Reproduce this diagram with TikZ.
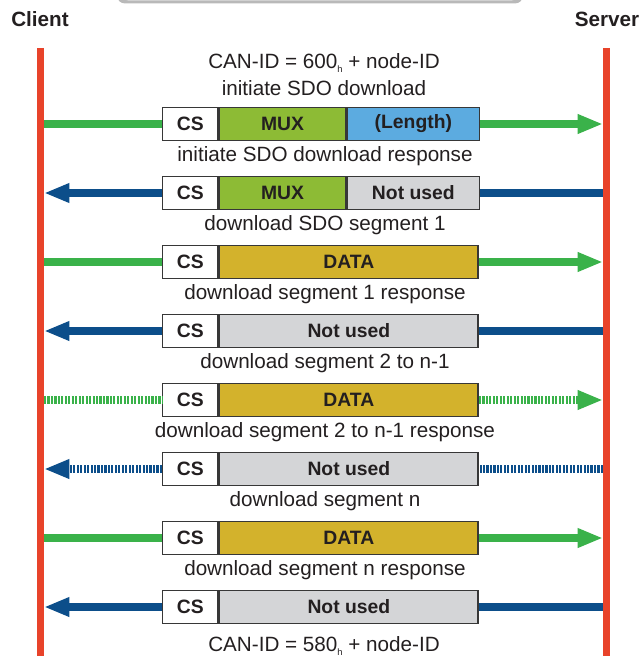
\documentclass[tikz,border=0pt]{standalone}
\usepackage{fontspec}
\setmainfont{Liberation Sans}
\usetikzlibrary{arrows.meta}
\definecolor{lifered}{RGB}{232,67,42}
\definecolor{reqgreen}{RGB}{58,178,74}
\definecolor{resblue}{RGB}{12,78,138}
\definecolor{muxgreen}{RGB}{141,187,53}
\definecolor{lenblue}{RGB}{92,171,224}
\definecolor{unusedgray}{RGB}{212,213,215}
\definecolor{datagold}{RGB}{211,178,44}
\definecolor{boxline}{RGB}{55,55,55}
\definecolor{txt}{RGB}{35,31,32}
\begin{document}
\begin{tikzpicture}[x=0.75pt,y=-0.75pt,
  lbl/.style={font=\fontsize{15.5}{18}\selectfont, text=txt, inner sep=0pt},
  head/.style={font=\bfseries\fontsize{15.5}{18}\selectfont, text=txt, inner sep=0pt},
  cell/.style={draw=boxline, line width=1.1pt, minimum height=25pt, inner sep=0pt, anchor=west, font=\bfseries\fontsize{14.5}{18}\selectfont, text=txt},
  csbox/.style={cell, fill=white, minimum width=41.5pt},
  fullbox/.style={cell, minimum width=194pt},
  muxbox/.style={cell, fill=muxgreen, minimum width=94.5pt},
  thirdbox/.style={cell, minimum width=99.5pt},
  msg/.style={line width=5.5pt},
  tip/.style={-{Triangle[length=19pt,width=13.5pt]}},
  dots/.style={dash pattern=on 1.6pt off 1pt},
  life/.style={draw=lifered, line width=5.25pt},
]
\useasboundingbox (0,0) rectangle (639,659);
\begin{scope}
\clip (0,0) rectangle (639,659);
\fill[gray!55, rounded corners=6pt] (117,-30) rectangle (523,3.5);
\fill[white, rounded corners=6pt] (121,-30) rectangle (519,0.5);
\end{scope}

% headings
\node[head] (client) at (40,19) {Client};
\node[head] (server) at (607,19) {Server};

% lifeline coordinates
\coordinate (ctop) at (40,48);
\coordinate (cbot) at (40,656);
\coordinate (stop) at (606,48);
\coordinate (sbot) at (606,656);

% labels
\node[lbl] (l0a) at (324,63) {CAN-ID = 600\raisebox{-0.45ex}{\fontsize{7}{8}\selectfont h} + node-ID};
\node[lbl] (l0b) at (324,88) {initiate SDO download};
\node[lbl] (l1) at (325,156) {initiate SDO download response};
\node[lbl] (l2) at (325,225) {download SDO segment 1};
\node[lbl] (l3) at (325,294) {download segment 1 response};
\node[lbl] (l4) at (325,363) {download segment 2 to n-1};
\node[lbl] (l5) at (325,432) {download segment 2 to n-1 response};
\node[lbl] (l6) at (325,501) {download segment n};
\node[lbl] (l7) at (325,570) {download segment n response};
\node[lbl] (l8) at (324,646) {CAN-ID = 580\raisebox{-0.45ex}{\fontsize{7}{8}\selectfont h} + node-ID};

% row 1
\node[csbox] (cs1) at (162,124) {CS};
\node[muxbox] (mux1) at (cs1.east) {MUX};
\node[thirdbox, fill=lenblue] (len1) at (mux1.east) {(Length)};
\coordinate (c1) at (44,124); \coordinate (s1) at (603,124);
\draw[msg, draw=reqgreen] (c1) -- (cs1.west);
\draw[msg, draw=reqgreen, tip] (len1.east) -- (s1);

% row 2
\node[csbox] (cs2) at (162,193) {CS};
\node[muxbox] (mux2) at (cs2.east) {MUX};
\node[thirdbox, fill=unusedgray] (nu2) at (mux2.east) {Not used};
\coordinate (c2) at (44,193); \coordinate (s2) at (603,193);
\draw[msg, draw=resblue] (s2) -- (nu2.east);
\draw[msg, draw=resblue, tip] (cs2.west) -- (c2);

% row 3
\node[csbox] (cs3) at (162,262) {CS};
\node[fullbox, fill=datagold] (d3) at (cs3.east) {DATA};
\coordinate (c3) at (44,262); \coordinate (s3) at (603,262);
\draw[msg, draw=reqgreen] (c3) -- (cs3.west);
\draw[msg, draw=reqgreen, tip] (d3.east) -- (s3);

% row 4
\node[csbox] (cs4) at (162,331) {CS};
\node[fullbox, fill=unusedgray] (nu4) at (cs4.east) {Not used};
\coordinate (c4) at (44,331); \coordinate (s4) at (603,331);
\draw[msg, draw=resblue] (s4) -- (nu4.east);
\draw[msg, draw=resblue, tip] (cs4.west) -- (c4);

% row 5 (dotted)
\node[csbox] (cs5) at (162,400) {CS};
\node[fullbox, fill=datagold] (d5) at (cs5.east) {DATA};
\coordinate (c5) at (44,400); \coordinate (s5) at (603,400);
\draw[msg, dots, draw=reqgreen] (c5) -- (cs5.west);
\draw[msg, dots, draw=reqgreen, tip] (d5.east) -- (s5);

% row 6 (dotted)
\node[csbox] (cs6) at (162,469) {CS};
\node[fullbox, fill=unusedgray] (nu6) at (cs6.east) {Not used};
\coordinate (c6) at (44,469); \coordinate (s6) at (603,469);
\draw[msg, dots, draw=resblue] (s6) -- (nu6.east);
\draw[msg, dots, draw=resblue, tip] (cs6.west) -- (c6);

% row 7
\node[csbox] (cs7) at (162,538) {CS};
\node[fullbox, fill=datagold] (d7) at (cs7.east) {DATA};
\coordinate (c7) at (44,538); \coordinate (s7) at (603,538);
\draw[msg, draw=reqgreen] (c7) -- (cs7.west);
\draw[msg, draw=reqgreen, tip] (d7.east) -- (s7);

% row 8
\node[csbox] (cs8) at (162,607) {CS};
\node[fullbox, fill=unusedgray] (nu8) at (cs8.east) {Not used};
\coordinate (c8) at (44,607); \coordinate (s8) at (603,607);
\draw[msg, draw=resblue] (s8) -- (nu8.east);
\draw[msg, draw=resblue, tip] (cs8.west) -- (c8);

% lifelines
\draw[life] (ctop) -- (cbot);
\draw[life] (stop) -- (sbot);
\end{tikzpicture}
\end{document}
